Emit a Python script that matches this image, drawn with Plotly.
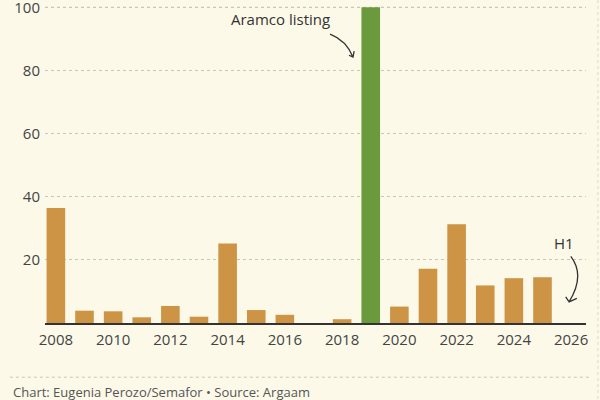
"""
Saudi IPO proceeds by year, Aramco listing highlighted
"""

import plotly.graph_objects as go

years = list(range(2008, 2027))
values = [36.4, 3.9, 3.7, 1.8, 5.4, 2.0, 25.2, 4.1, 2.6, 0, 1.2, 100,
          5.2, 17.2, 31.3, 11.9, 14.2, 14.5, 0]
highlight_year = 2019
y_ticks = [20, 40, 60, 80, 100]
x_ticks = list(range(2008, 2027, 2))

ORANGE = "#cd9446"
GREEN = "#6a9a3b"
BG = "#fcf9e9"
TEXT = "#444444"

bar_colors = [GREEN if y == highlight_year else ORANGE for y in years]

fig = go.Figure(
    go.Bar(
        x=years,
        y=values,
        marker=dict(color=bar_colors, line=dict(width=0)),
        width=0.65,
        hoverinfo="x+y",
    )
)

fig.update_layout(
    width=600,
    height=400,
    paper_bgcolor=BG,
    plot_bgcolor=BG,
    margin=dict(l=45, r=14, t=6, b=77),
    showlegend=False,
    font=dict(family="Open Sans, sans-serif", size=15, color=TEXT),
    xaxis=dict(
        range=[2007.62, 2026.52],
        tickvals=x_ticks,
        showgrid=False,
        zeroline=False,
        showline=True,
        linecolor="#333333",
        linewidth=1.5,
        ticks="",
        ticklabelstandoff=2,
        automargin=False,
        tickfont=dict(size=15, color=TEXT),
    ),
    yaxis=dict(
        range=[0, 100.4],
        tickvals=y_ticks,
        showgrid=True,
        gridcolor="#c9c6b6",
        griddash="dot",
        gridwidth=1,
        zeroline=False,
        showline=False,
        ticks="",
        ticklabelstandoff=4,
        ticklabeloverflow="allow",
        automargin=False,
        tickfont=dict(size=15, color=TEXT),
    ),
)

# annotation texts
fig.add_annotation(x=2015.85, y=96.2, xref="x", yref="y", text="Aramco listing",
                   showarrow=False, font=dict(size=15, color="#333333"))
fig.add_annotation(x=2025.74, y=25.3, xref="x", yref="y", text="H1",
                   showarrow=False, font=dict(size=15, color="#333333"))

# hand-drawn style curved arrows
arrow_style = dict(color="#333333", width=1.3)
fig.add_shape(
    type="path", xref="x", yref="y", line=arrow_style,
    path=("M 2017.58 91.5 Q 2018.15 89.5 2018.38 84.2 "
          "M 2018.24 84.8 L 2018.38 84.2 L 2018.42 86.1"),
)
fig.add_shape(
    type="path", xref="x", yref="y", line=arrow_style,
    path=("M 2025.99 21.1 Q 2026.5 15 2025.93 6.7 "
          "M 2025.81 8.3 L 2025.93 6.7 L 2026.2 7.8"),
)

# gridline at the top tick (drawn explicitly so it sits on the plot edge)
fig.add_hline(y=100, line=dict(color="#c9c6b6", width=1, dash="dot"),
              layer="below")

# footer separator, right border and credit
fig.add_shape(type="line", xref="paper", yref="paper",
              x0=-0.065, x1=1.008, y0=-0.171, y1=-0.171,
              line=dict(color="#c9c6b6", width=1, dash="dot"))
fig.add_shape(type="line", xref="paper", yref="paper",
              x0=1.022, x1=1.022, y0=-0.24, y1=1.02,
              line=dict(color="#dcd9c8", width=1, dash="dot"))
fig.add_annotation(x=-0.063, y=-0.218, xref="paper", yref="paper",
                   xanchor="left", yanchor="middle", showarrow=False,
                   text="Chart: Eugenia Perozo/Semafor • Source: Argaam",
                   font=dict(size=13, color="#555555"))

fig.write_html(
    "out.html",
    config={"displayModeBar": False},
    post_script="document.body.style.margin='0';",
)
